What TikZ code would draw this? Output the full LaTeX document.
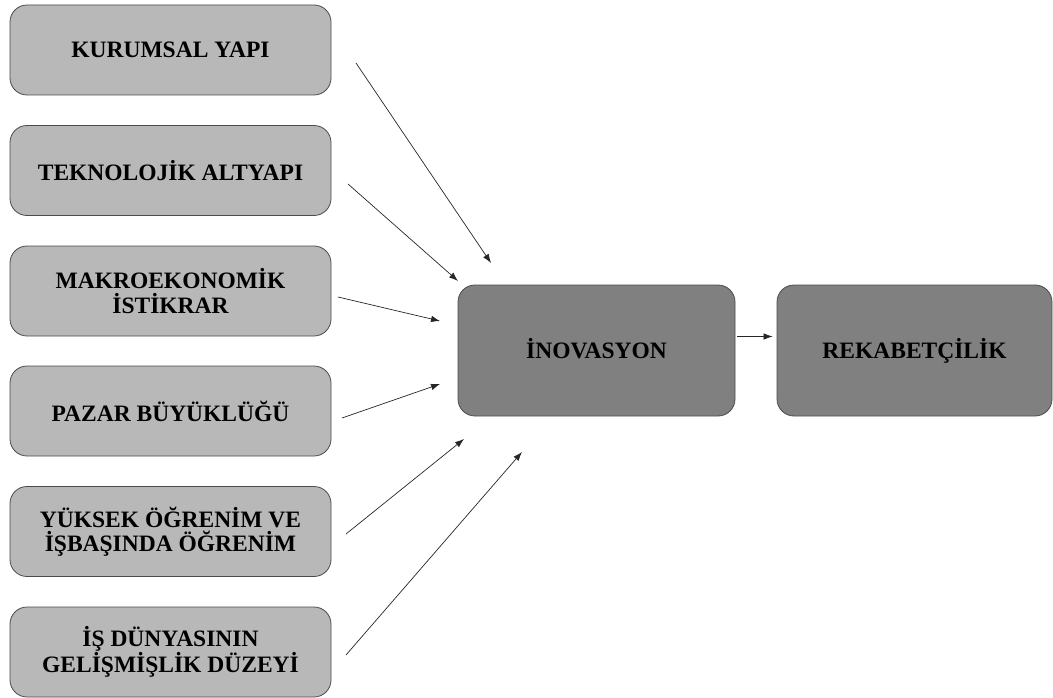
\documentclass[tikz,border=0pt]{standalone}
\usepackage{fontspec}
\setmainfont{Liberation Serif}
\usepackage{xcolor}
\usepackage{tikz}
\usetikzlibrary{arrows.meta}
\definecolor{lightbox}{RGB}{184,184,184}
\definecolor{darkbox}{RGB}{128,128,128}
\definecolor{edgegray}{RGB}{75,75,75}

\begin{document}
\begin{tikzpicture}[x=1pt,y=-1pt,>={Latex[length=9pt,width=6.5pt]},
    factor/.style={draw=edgegray,fill=lightbox,rounded corners=17pt,line width=.8pt,
      minimum width=321pt,minimum height=90pt,inner sep=0pt,align=center,
      font=\fontsize{23.5}{24.5}\selectfont\bfseries},
    outcome/.style={factor,fill=darkbox,minimum width=277pt,minimum height=131pt,
      text height=16pt,text depth=0pt},
    link/.style={->,line width=.7pt,draw=black!85}]
      \useasboundingbox (0,0) rectangle (1053,698);
      \node[factor] (kurumsal) at (170.5,50) {KURUMSAL YAPI};
      \node[factor] (teknoloji) at (170.5,170.5) {TEKNOLOJİK ALTYAPI};
      \node[factor] (makro) at (170.5,291) {MAKROEKONOMİK\\İSTİKRAR};
      \node[factor] (pazar) at (170.5,411) {PAZAR BÜYÜKLÜĞÜ};
      \node[factor] (egitim) at (170.5,531.5) {YÜKSEK ÖĞRENİM VE\\İŞBAŞINDA ÖĞRENİM};
      \node[factor] (isdunyasi) at (170.5,652) {İŞ DÜNYASININ\\GELİŞMİŞLİK DÜZEYİ};
      \node[outcome] (inovasyon) at (596.5,350.5) {İNOVASYON};
      \node[outcome,minimum width=275pt] (rekabet) at (914.5,350.5) {REKABETÇİLİK};
      % free ends of the factor arrows
      \coordinate (k1) at (356,63);  \coordinate (i1) at (491,263);
      \coordinate (k2) at (348,184); \coordinate (i2) at (458,281);
      \coordinate (k3) at (338,297); \coordinate (i3) at (440,321);
      \coordinate (k4) at (342,418); \coordinate (i4) at (440,384);
      \coordinate (k5) at (346,534); \coordinate (i5) at (464,439);
      \coordinate (k6) at (346,655); \coordinate (i6) at (522,452);
      \draw[link] (k1) -- (i1);
      \draw[link] (k2) -- (i2);
      \draw[link] (k3) -- (i3);
      \draw[link] (k4) -- (i4);
      \draw[link] (k5) -- (i5);
      \draw[link] (k6) -- (i6);
      \draw[link,shorten <=2pt,shorten >=4pt] ([yshift=14pt]inovasyon.east) -- ([yshift=14pt]rekabet.west);
    \end{tikzpicture}
\end{document}
